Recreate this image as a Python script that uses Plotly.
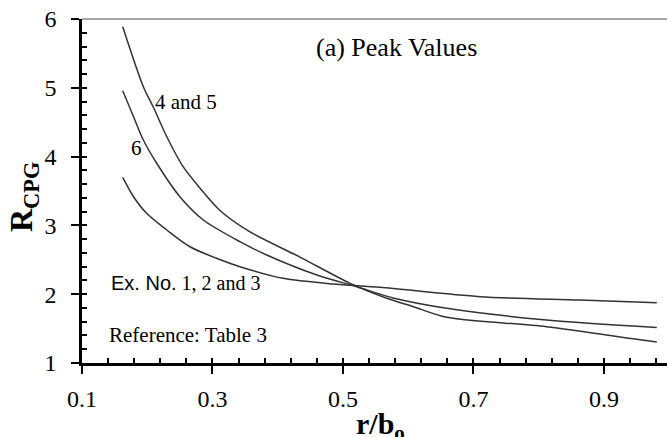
import plotly.graph_objects as go

# Curve "4 and 5"
x_45 = [0.1624, 0.194, 0.209, 0.230, 0.255, 0.281, 0.311, 0.357, 0.434, 0.511, 0.567, 0.608, 0.659, 0.812, 0.950, 0.981]
y_45 = [5.888, 5.016, 4.725, 4.289, 3.853, 3.54, 3.22, 2.908, 2.54, 2.158, 1.940, 1.818, 1.664, 1.528, 1.344, 1.305]
# Curve "6"
x_6 = [0.1624, 0.179, 0.194, 0.2145, 0.250, 0.286, 0.342, 0.383, 0.460, 0.521, 0.577, 0.659, 0.812, 0.981]
y_6 = [4.958, 4.580, 4.241, 3.903, 3.417, 3.078, 2.763, 2.570, 2.279, 2.109, 1.945, 1.795, 1.625, 1.516]
# Curve "Ex. No. 1, 2 and 3"
x_123 = [0.1624, 0.179, 0.199, 0.230, 0.2655, 0.306, 0.342, 0.408, 0.485, 0.557, 0.710, 0.863, 0.981]
y_123 = [3.699, 3.417, 3.176, 2.933, 2.690, 2.522, 2.400, 2.231, 2.148, 2.100, 1.964, 1.916, 1.876]

x_ticks = [0.1, 0.3, 0.5, 0.7, 0.9]
x_ticklabels = ["0.1", "0.3", "0.5", "0.7", "0.9"]
y_ticks = [1, 2, 3, 4, 5, 6]

XR = [0.1, 0.9966]
YR = [1, 6]
SERIF = "Liberation Serif"
LC = "#333333"

fig = go.Figure()
for xs, ys in [(x_45, y_45), (x_6, y_6), (x_123, y_123)]:
    fig.add_trace(go.Scatter(x=xs, y=ys, mode="lines", line=dict(color=LC, width=1.5, shape="spline", smoothing=0.8),
                             showlegend=False, hoverinfo="skip"))
# empty trace to host the overlay axes (inside ticks)
fig.add_trace(go.Scatter(x=[], y=[], xaxis="x2", yaxis="y2", showlegend=False))

fig.update_layout(
    width=667, height=437,
    margin=dict(l=82, r=0, t=19, b=74),
    paper_bgcolor="white", plot_bgcolor="white",
    font=dict(family=SERIF, color="black", size=24),
    xaxis=dict(range=XR, tickvals=x_ticks, ticktext=x_ticklabels, ticks="outside", ticklen=8, tickwidth=2,
               tickcolor="black", showline=True, linecolor="black", linewidth=2.5, showgrid=False, zeroline=False,
               tickfont=dict(family=SERIF, size=24), ticklabelstandoff=4),
    yaxis=dict(range=YR, tickvals=y_ticks, ticks="outside", ticklen=8, tickwidth=2, tickcolor="black",
               showline=True, linecolor="black", linewidth=2.5, showgrid=False, zeroline=False,
               tickfont=dict(family=SERIF, size=24), ticklabelstandoff=10),
    xaxis2=dict(overlaying="x", range=XR, tick0=0.1, dtick=0.04, ticks="inside", ticklen=5, tickwidth=1.5,
                tickcolor="black", showticklabels=False, showline=False, showgrid=False, zeroline=False,
                side="bottom"),
    yaxis2=dict(overlaying="y", range=YR, tick0=1, dtick=0.2, ticks="inside", ticklen=5, tickwidth=1.5,
                tickcolor="black", showticklabels=False, showline=False, showgrid=False, zeroline=False,
                side="left"),
    shapes=[dict(type="line", xref="paper", yref="paper", x0=0, x1=1, y0=1, y1=1,
                 line=dict(color="#888888", width=1.5))],
)

ann = [
    dict(x=0.582, y=5.59, text="(a) Peak Values", font=dict(family=SERIF, size=26)),
    dict(x=0.259, y=4.80, text="4 and 5", font=dict(family=SERIF, size=21)),
    dict(x=0.184, y=4.12, text="6", font=dict(family=SERIF, size=21)),
    dict(x=0.258, y=2.16, text="<span style=\"font-family:'Liberation Sans'\">Ex. No.</span> 1, 2 and 3",
         font=dict(family=SERIF, size=20)),
    dict(x=0.263, y=1.40, text="Reference: Table 3", font=dict(family=SERIF, size=21)),
]
for a in ann:
    fig.add_annotation(xref="x", yref="y", showarrow=False, xanchor="center", yanchor="middle", **a)

fig.add_annotation(xref="paper", yref="paper", x=(23 - 82) / 585, y=(363 - 197) / 344, textangle=-90,
                   xanchor="center", yanchor="middle",
                   showarrow=False, text="<b>R<sub>CPG</sub></b>", font=dict(family=SERIF, size=32))
fig.add_annotation(xref="paper", yref="paper", x=(380 - 82) / 585, y=(363 - 426) / 344,
                   xanchor="center", yanchor="middle",
                   showarrow=False, text="<b>r/b<sub>o</sub></b>", font=dict(family=SERIF, size=30))

fig.write_html("out.html", post_script="document.body.style.margin='0';",
               config={"displayModeBar": False})
